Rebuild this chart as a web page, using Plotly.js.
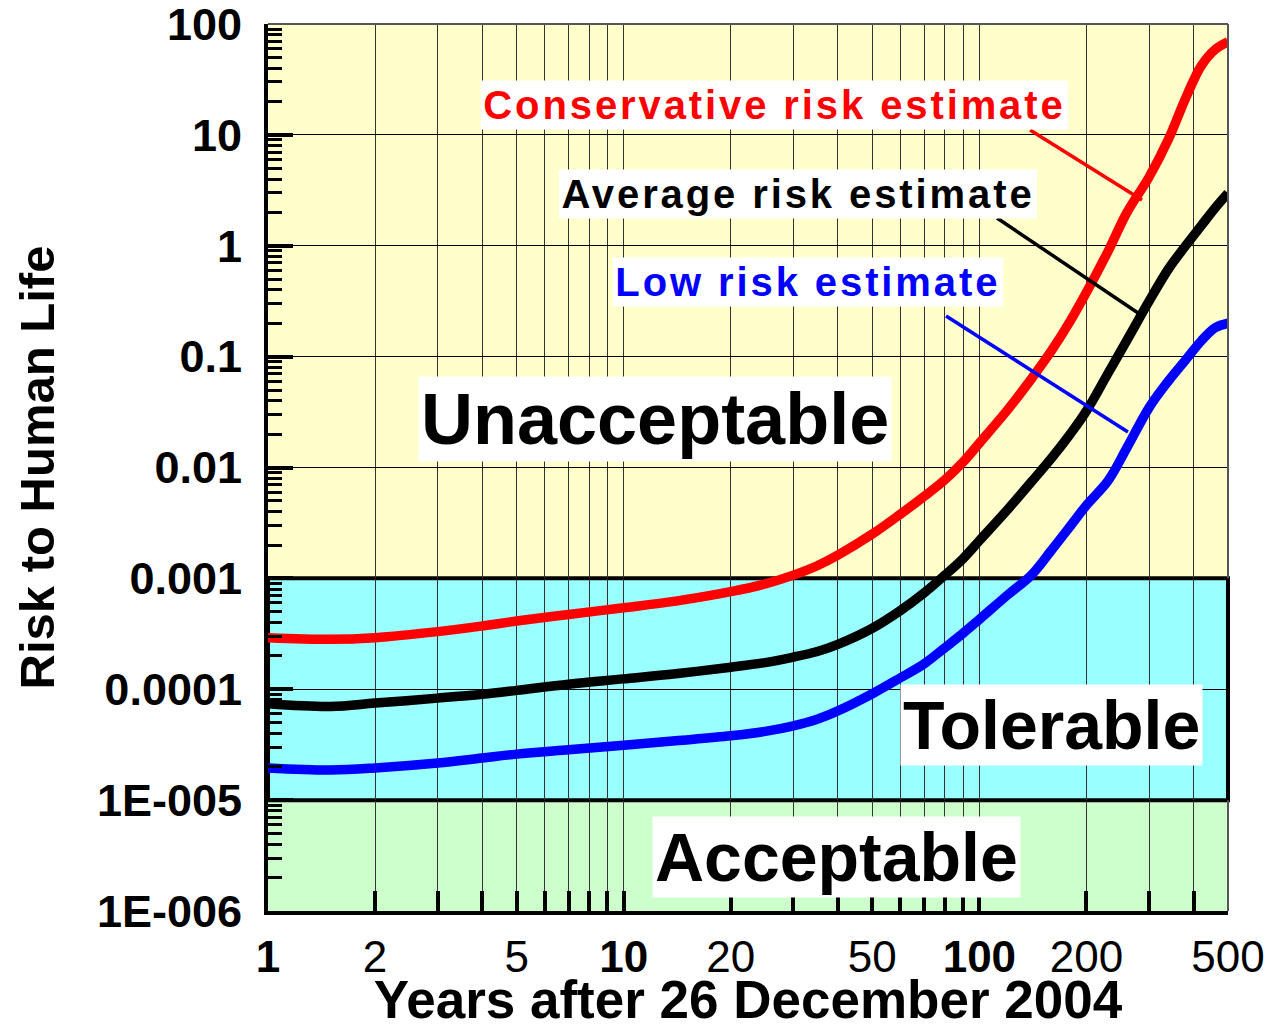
<!DOCTYPE html>
<html>
<head>
<meta charset="utf-8">
<script src="https://cdn.plot.ly/plotly-3.0.1.min.js"></script>
<style>
  html, body { margin: 0; padding: 0; background: #ffffff; }
  #chart { width: 1269px; height: 1029px; }
</style>
</head>
<body>
<div id="chart"></div>
<script>
// ---------------- data ----------------
const years = [1, 1.5, 2, 3, 4, 5, 7, 10, 14, 20, 25, 30, 35, 40, 50, 60, 70, 80, 90, 100, 120, 140, 160, 180, 200, 230, 260, 300, 340, 380, 420, 460, 500];

const conservativeRisk = [2.92e-4, 2.82e-4, 2.92e-4, 3.31e-4, 3.72e-4, 4.12e-4, 4.73e-4, 5.43e-4, 6.24e-4, 7.59e-4, 8.91e-4, 1.07e-3, 1.30e-3, 1.62e-3, 2.51e-3, 3.80e-3, 5.50e-3, 7.76e-3, 1.12e-2, 1.66e-2, 3.31e-2, 6.31e-2, 0.115, 0.209, 0.380, 0.891, 2.00, 4.17, 9.12, 21.4, 41.7, 58.9, 69.2];

const averageRisk = [7.41e-5, 7.00e-5, 7.50e-5, 8.32e-5, 9.02e-5, 9.77e-5, 1.11e-4, 1.24e-4, 1.38e-4, 1.58e-4, 1.74e-4, 1.95e-4, 2.19e-4, 2.54e-4, 3.55e-4, 5.13e-4, 7.41e-4, 1.07e-3, 1.51e-3, 2.19e-3, 4.17e-3, 7.41e-3, 1.23e-2, 2.00e-2, 3.24e-2, 7.08e-2, 0.141, 0.316, 0.617, 1.00, 1.51, 2.19, 2.98];

const lowRisk = [1.95e-5, 1.87e-5, 1.95e-5, 2.16e-5, 2.40e-5, 2.60e-5, 2.85e-5, 3.13e-5, 3.43e-5, 3.80e-5, 4.17e-5, 4.68e-5, 5.37e-5, 6.38e-5, 9.12e-5, 1.27e-4, 1.70e-4, 2.37e-4, 3.20e-4, 4.27e-4, 7.08e-4, 1.07e-3, 1.82e-3, 2.95e-3, 4.57e-3, 7.59e-3, 1.51e-2, 3.47e-2, 6.03e-2, 9.33e-2, 0.138, 0.182, 0.200];

const seriesNames = ['Conservative risk estimate', 'Average risk estimate', 'Low risk estimate'];

// risk zone limits
const zoneNames  = ['Acceptable', 'Tolerable', 'Unacceptable'];
const zoneLimits = [1e-6, 1e-5, 1e-3, 100];

// tick labels
const xTickVals  = [1, 2, 5, 10, 20, 50, 100, 200, 500];
const xTickText  = ['<b>1</b>', '2', '5', '<b>10</b>', '20', '50', '<b>100</b>', '200', '500'];
const xMinorVals = [3, 4, 6, 7, 8, 9, 30, 40, 60, 70, 80, 90, 300, 400];
const yTickVals  = [1e-6, 1e-5, 1e-4, 1e-3, 1e-2, 1e-1, 1, 10, 100];
const yTickText  = ['1E-006', '1E-005', '0.0001', '0.001', '0.01', '0.1', '1', '10', '100'];
const yMinorMult = [2, 3, 4, 5, 6, 7, 8, 9];

// ---------------- styling ----------------
const FONT = 'Liberation Sans, Arial, Helvetica, sans-serif';
const yMinorVals = [];
yTickVals.slice(0, -1).forEach(d => yMinorMult.forEach(m => yMinorVals.push(d * m)));

const lineW = 9.5;
const seriesColors = ['#ff0000', '#000000', '#0000ff'];
const seriesValues = [conservativeRisk, averageRisk, lowRisk];
const data = seriesValues.map((v, i) => ({
  x: years, y: v, name: seriesNames[i], mode: 'lines',
  line: { color: seriesColors[i], width: lineW, shape: 'spline', smoothing: 1 }
}));

const zoneColors = ['#ccffcc', '#99ffff', '#ffffcc'];
const shapes = [];
zoneColors.forEach((c, i) => {
  shapes.push({ type: 'rect', layer: 'below', xref: 'paper', yref: 'y', x0: 0, x1: 1,
    y0: zoneLimits[i], y1: zoneLimits[i + 1], fillcolor: c, line: { width: 0 } });
});
// thick border round the tolerable band
shapes.push({ type: 'rect', layer: 'between', xref: 'paper', yref: 'y', x0: 0, x1: 1,
  y0: zoneLimits[1], y1: zoneLimits[2], fillcolor: 'rgba(0,0,0,0)', line: { color: '#000', width: 4 } });
// thin frame top / right
shapes.push({ type: 'line', layer: 'above', xref: 'paper', yref: 'paper', x0: 0, x1: 1, y0: 1, y1: 1,
  line: { color: '#555', width: 2 } });
shapes.push({ type: 'line', layer: 'above', xref: 'paper', yref: 'y', x0: 1, x1: 1, y0: zoneLimits[2], y1: zoneLimits[3],
  line: { color: '#555', width: 2 } });
shapes.push({ type: 'line', layer: 'above', xref: 'paper', yref: 'y', x0: 1, x1: 1, y0: zoneLimits[0], y1: zoneLimits[1],
  line: { color: '#555', width: 2 } });
// leader lines from captions to curves
const leaders = [
  [0.7938, 0.8805, 0.9104, 0.8016],
  [0.7594, 0.7813, 0.9063, 0.6742],
  [0.7063, 0.6708, 0.8958, 0.5400]
];
leaders.forEach((l, i) => shapes.push({ type: 'line', layer: 'above', xref: 'paper', yref: 'paper',
  x0: l[0], y0: l[1], x1: l[2], y1: l[3], line: { color: seriesColors[i], width: 3.5 } }));

function label(text, x, y, size, color) {
  return { text: text, xref: 'paper', yref: 'paper', x: x, y: y, xanchor: 'center', yanchor: 'middle',
    showarrow: false, bgcolor: '#ffffff', borderpad: 2,
    font: { family: FONT, size: size, color: color, weight: 'bold' } };
}
const annotations = [
  label(zoneNames[2], 0.4031, 0.5552, 72, '#000'),
  label(zoneNames[1], 0.8161, 0.2097, 68, '#000'),
  label(zoneNames[0], 0.5927, 0.0609, 68, '#000'),
  label(seriesNames[0], 0.5281, 0.9087, 40, seriesColors[0]),
  label(seriesNames[1], 0.5521, 0.8078, 40, seriesColors[1]),
  label(seriesNames[2], 0.5625, 0.7091, 40, seriesColors[2])
];

const layout = {
  width: 1269, height: 1029,
  margin: { l: 268, r: 41, t: 24, b: 118, pad: 0 },
  paper_bgcolor: '#ffffff', plot_bgcolor: '#ffffcc',
  showlegend: false,
  font: { family: FONT, color: '#000' },
  xaxis: {
    type: 'log', range: [0, Math.log10(500)], autorange: false,
    tickmode: 'array', tickvals: xTickVals, ticktext: xTickText,
    tickfont: { size: 44, family: FONT, color: '#000' },
    ticklabelstandoff: 4, ticklabeloverflow: 'allow',
    ticks: 'inside', ticklen: 20, tickwidth: 4, tickcolor: '#000',
    showgrid: true, gridcolor: '#333333', gridwidth: 1,
    minor: { tickmode: 'array', tickvals: xMinorVals, ticks: 'inside', ticklen: 20, tickwidth: 4, tickcolor: '#000',
      showgrid: true, gridcolor: '#333333', gridwidth: 1 },
    showline: true, linecolor: '#000', linewidth: 4, mirror: false,
    zeroline: false, automargin: false,
    title: { text: 'Years after 26 December 2004', font: { size: 53, family: FONT, weight: 'bold', color: '#000' }, standoff: 8 }
  },
  yaxis: {
    type: 'log', range: [-6, 2], autorange: false,
    tickmode: 'array', tickvals: yTickVals, ticktext: yTickText,
    tickfont: { size: 45, family: FONT, weight: 'bold', color: '#000' },
    ticklabelstandoff: 13, ticklabeloverflow: 'allow',
    ticks: 'inside', ticklen: 25, tickwidth: 4, tickcolor: '#000',
    showgrid: true, gridcolor: '#000000', gridwidth: 1,
    minor: { tickmode: 'array', tickvals: yMinorVals, ticks: 'inside', ticklen: 14, tickwidth: 3, tickcolor: '#000', showgrid: false },
    showline: true, linecolor: '#000', linewidth: 4, mirror: false,
    zeroline: false, automargin: false,
    title: { text: 'Risk to Human Life', font: { size: 49, family: FONT, weight: 'bold', color: '#000' }, standoff: 28 }
  },
  shapes: shapes,
  annotations: annotations
};

Plotly.newPlot('chart', data, layout, { staticPlot: true, displayModeBar: false }).then(function () {
  // the curve captions in the reference are letter-spaced
  document.querySelectorAll('#chart g.annotation').forEach(function (g) {
    const t = g.querySelector('text.annotation-text');
    const r = g.querySelector('rect.bg');
    if (!t || !r) return;
    if (seriesNames.indexOf(t.textContent) < 0) return;
    const before = t.getBBox();
    const rx = parseFloat(r.getAttribute('x')) || 0;
    const rw = parseFloat(r.getAttribute('width')) || 0;
    const padL = before.x - rx;
    const padR = (rx + rw) - (before.x + before.width);
    t.style.letterSpacing = '2.9px';
    const mid = t.getBBox();
    const dx = (before.x + before.width / 2) - (mid.x + mid.width / 2);
    t.setAttribute('x', (parseFloat(t.getAttribute('x')) || 0) + dx);
    const bb = t.getBBox();
    r.setAttribute('x', bb.x - padL);
    r.setAttribute('width', bb.width + padL + padR);
  });
});
</script>
</body>
</html>
